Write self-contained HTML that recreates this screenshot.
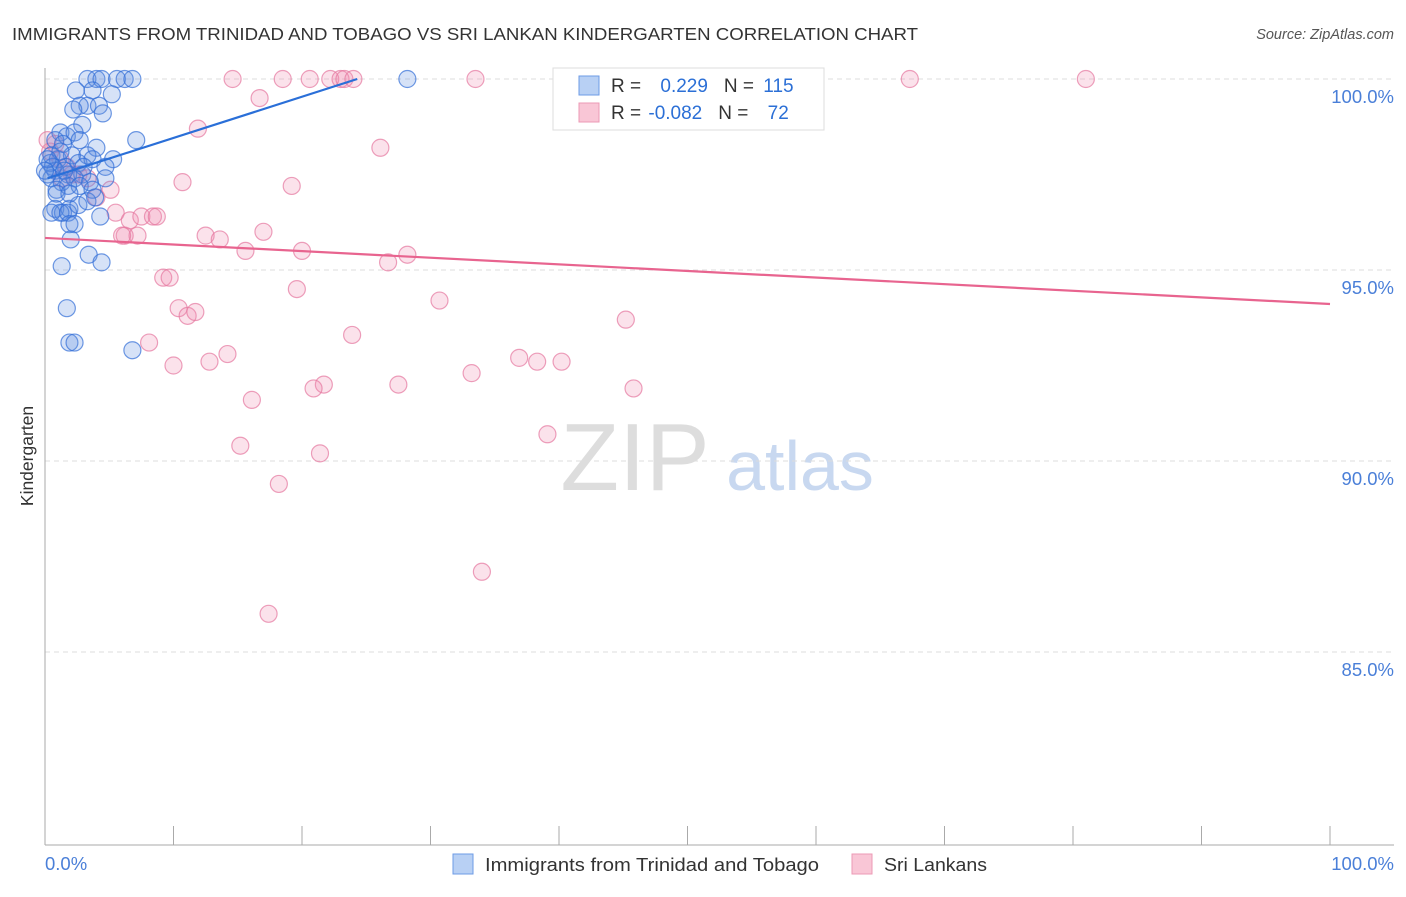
<!DOCTYPE html>
<html><head><meta charset="utf-8"><style>
body{margin:0;background:#fff;font-family:"Liberation Sans",sans-serif;}
svg text{font-family:"Liberation Sans",sans-serif;}
</style></head><body>
<svg id="chart" width="1406" height="892" viewBox="0 0 1406 892" xmlns="http://www.w3.org/2000/svg">
<text x="12" y="40" font-size="17.5" fill="#333" textLength="906" lengthAdjust="spacingAndGlyphs">IMMIGRANTS FROM TRINIDAD AND TOBAGO VS SRI LANKAN KINDERGARTEN CORRELATION CHART</text>
<text x="1394" y="39" font-size="14.5" fill="#555" font-style="italic" text-anchor="end">Source: ZipAtlas.com</text>
<g><text x="635" y="490" font-size="96" fill="#ddd" font-family="Liberation Serif" text-anchor="middle">ZIP</text><text x="800" y="490" font-size="70" fill="#c8d8f0" text-anchor="middle">atlas</text></g>
<g id="grid"></g>
<line x1="45" y1="68" x2="45" y2="845" stroke="#aaa"/>
<line x1="45" y1="845" x2="1394" y2="845" stroke="#aaa"/>
<g id="xticks"></g>
<text x="45" y="870" font-size="18.5" fill="#4a7fd8">0.0%</text>
<text x="1394" y="870" font-size="18.5" fill="#4a7fd8" text-anchor="end">100.0%</text>
<text transform="translate(33,456) rotate(-90)" font-size="17.5" fill="#333" text-anchor="middle">Kindergarten</text>
<g id="pts"></g>
<g id="trends"></g>
<g>
<rect x="553" y="68" width="271" height="62" fill="#fff" stroke="#ddd"/>
<rect x="579" y="76" width="20" height="19" fill="#b8d0f4" stroke="#6d9be6"/>
<rect x="579" y="103" width="20" height="19" fill="#f9c6d6" stroke="#ec9ab5"/>
<text x="611" y="92" font-size="19" fill="#333">R = <tspan fill="#2b6fd6" dx="14">0.229</tspan><tspan dx="16" fill="#333">N = </tspan><tspan fill="#2b6fd6" dx="4">115</tspan></text>
<text x="611" y="119" font-size="19" fill="#333">R = <tspan fill="#2b6fd6" dx="2">-0.082</tspan><tspan dx="16" fill="#333">N = </tspan><tspan fill="#2b6fd6" dx="14">72</tspan></text>
</g>
<g>
<rect x="453" y="854" width="20" height="20" fill="#b8d0f4" stroke="#6d9be6"/>
<text x="485" y="871" font-size="18.5" fill="#333" textLength="334" lengthAdjust="spacingAndGlyphs">Immigrants from Trinidad and Tobago</text>
<rect x="852" y="854" width="20" height="20" fill="#f9c6d6" stroke="#ec9ab5"/>
<text x="884" y="871" font-size="18.5" fill="#333" textLength="103" lengthAdjust="spacingAndGlyphs">Sri Lankans</text>
</g>
</svg>
<script>
const yTicks=[100,95,90,85];
const yTickLabels=["100.0%","95.0%","90.0%","85.0%"];
const xTickVals=[0,10,20,30,40,50,60,70,80,90,100];
const blueX=[3.3,4.0,4.4,5.6,6.2,6.8,28.2,2.4,3.7,5.2,3.3,2.7,4.2,2.2,4.5,2.9,7.1,1.2,1.7,2.3,0.8,1.4,2.7,4.0,0.5,1.0,2.1,3.3,5.3,0.4,1.6,2.6,3.7,4.7,0.8,1.8,2.9,0.5,1.3,2.3,3.5,4.7,0.9,1.8,2.7,3.7,0.8,1.4,1.9,0.5,1.2,1.8,2.6,3.3,4.3,1.9,2.3,2.0,1.3,3.4,4.4,1.7,1.9,2.3,6.8,0.9,0.6,0.2,1.2,3.0,3.9,1.5,1.9,0.2,0.0];
const blueY=[100,100,100,100,100,100,100,99.7,99.7,99.6,99.3,99.3,99.3,99.2,99.1,98.8,98.4,98.6,98.5,98.6,98.4,98.3,98.4,98.2,98.0,97.9,98.0,98.0,97.9,97.8,97.7,97.8,97.9,97.7,97.6,97.5,97.5,97.4,97.3,97.4,97.3,97.4,97.1,97.2,97.2,97.1,96.6,96.5,96.6,96.5,96.5,96.5,96.7,96.8,96.4,96.2,96.2,95.8,95.1,95.4,95.2,94.0,93.1,93.1,92.9,97.0,97.7,97.5,98.1,97.7,96.9,97.6,97.0,97.9,97.6];
const pinkX=[18.5,14.6,20.6,22.2,23.0,23.3,24.0,33.5,67.3,81.0,41.3,16.7,11.9,26.1,10.7,19.2,5.1,4.0,2.6,3.3,5.5,6.6,7.5,8.4,8.7,6.2,7.2,6.0,12.5,13.6,15.6,17.0,20.0,26.7,28.2,9.2,9.7,19.6,30.7,10.4,11.1,11.7,45.2,23.9,8.1,14.2,12.8,10.0,36.9,38.3,40.2,33.2,27.5,21.7,20.9,45.8,16.1,39.1,15.2,21.4,18.2,34.0,17.4,0.8,1.2,1.7,2.1,0.4,1.3,0.2];
const pinkY=[100,100,100,100,100,100,100,100,100,100,100,99.5,98.7,98.2,97.3,97.2,97.1,96.9,97.5,97.4,96.5,96.3,96.4,96.4,96.4,95.9,95.9,95.9,95.9,95.8,95.5,96.0,95.5,95.2,95.4,94.8,94.8,94.5,94.2,94.0,93.8,93.9,93.7,93.3,93.1,92.8,92.6,92.5,92.7,92.6,92.6,92.3,92.0,92.0,91.9,91.9,91.6,90.7,90.4,90.2,89.4,87.1,86.0,98.3,97.9,97.7,97.5,98.1,97.4,98.4];
const blueTrendX=[0.2,24.3];
const blueTrendY=[97.4,100];
const pinkTrendX=[0,100];
const pinkTrendY=[95.84,94.11];

const NS="http://www.w3.org/2000/svg";
function xs(v){return 45+v*12.85;}
function ys(v){return 79+(100-v)*38.2;}
function mk(tag,attrs,parent){const e=document.createElementNS(NS,tag);for(const k in attrs)e.setAttribute(k,attrs[k]);parent.appendChild(e);return e;}
const grid=document.getElementById('grid');
yTicks.forEach((t,i)=>{
  const l=mk('line',{x1:45,x2:1394,y1:ys(t),y2:ys(t),stroke:'#ddd','stroke-dasharray':'5,4'},grid);
  
  
  const tx=mk('text',{x:1394,y:ys(t)+24,'font-size':18.5,fill:'#4a7fd8','text-anchor':'end'},grid);
  tx.textContent=yTickLabels[i];
  
  
});
const xt=document.getElementById('xticks');
xTickVals.forEach(v=>{
  const l=mk('line',{x1:xs(v),x2:xs(v),y1:826,y2:845,stroke:'#aaa'},xt);
  
  
});
const pts=document.getElementById('pts');
pinkX.forEach((x,i)=>{
  const c=mk('circle',{cx:xs(x),cy:ys(pinkY[i]),r:8.5,fill:'rgba(240,140,175,0.25)',stroke:'rgba(230,120,160,0.7)','stroke-width':1.2},pts);
  
  
});
blueX.forEach((x,i)=>{
  const c=mk('circle',{cx:xs(x),cy:ys(blueY[i]),r:8.5,fill:'rgba(90,140,225,0.25)',stroke:'rgba(50,110,215,0.7)','stroke-width':1.2},pts);
  
  
});
const tr=document.getElementById('trends');
const bl=mk('line',{x1:xs(blueTrendX[0]),y1:ys(blueTrendY[0]),x2:xs(blueTrendX[1]),y2:ys(blueTrendY[1]),stroke:'#2a6fd8','stroke-width':2.2},tr);


const pl=mk('line',{x1:xs(pinkTrendX[0]),y1:ys(pinkTrendY[0]),x2:xs(pinkTrendX[1]),y2:ys(pinkTrendY[1]),stroke:'#e8648f','stroke-width':2.2},tr);


</script>
</body></html>
